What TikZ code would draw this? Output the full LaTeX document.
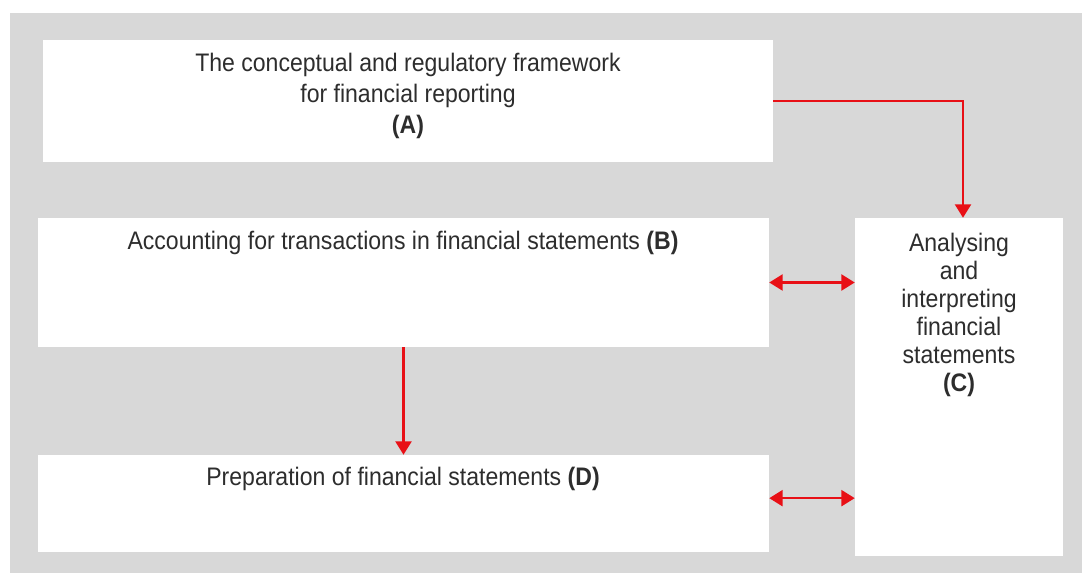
\documentclass[tikz,border=0pt]{standalone}
\usepackage{fontspec}
\setmainfont[FakeStretch=0.91]{Liberation Sans}
\usetikzlibrary{arrows.meta}

\definecolor{panelgray}{RGB}{216,216,216}
\definecolor{linkred}{RGB}{232,16,22}
\definecolor{inkgray}{RGB}{45,45,45}

\tikzset{
  topicbox/.style={fill=white,draw=none,inner sep=0pt},
  topictext/.style={text=inkgray,align=center,font=\fontsize{19}{23.5}\selectfont},
  link/.style={draw=linkred,line width=1.6pt,-{Triangle[width=12pt,length=10pt]}},
  twolink/.style={draw=linkred,line width=1.6pt,{Triangle[width=12pt,length=10pt]}-{Triangle[width=12pt,length=10pt]}}
}

\begin{document}
\begin{tikzpicture}[x=0.75pt,y=0.75pt,yscale=-1,xscale=1]
		\useasboundingbox (0,0) rectangle (1082,573);
		
		\fill [panelgray] (10,13) rectangle (1082,573);
		
		% boxes
		\node [topicbox,minimum width=730*0.75pt,minimum height=122*0.75pt] (A) at (408,101) {};
		\node [topicbox,minimum width=731*0.75pt,minimum height=129*0.75pt] (B) at (403.5,282.5) {};
		\node [topicbox,minimum width=208*0.75pt,minimum height=338*0.75pt] (C) at (959,387) {};
		\node [topicbox,minimum width=731*0.75pt,minimum height=97*0.75pt] (D) at (403.5,503.5) {};
		
		% texts
		\node [topictext] (tA) at (408,96) {The conceptual and regulatory framework\\for financial reporting\\\textbf{(A)}};
		\node [topictext] (tB) at (403,243) {Accounting for transactions in financial statements \textbf{(B)}};
		\node [topictext,font=\fontsize{19}{21}\selectfont] (tC) at (959,315) {Analysing\\and\\interpreting\\financial\\statements\\\textbf{(C)}};
		\node [topictext] (tD) at (403,479) {Preparation of financial statements \textbf{(D)}};
		
		% connectors
		\coordinate (dC) at ([yshift=-4pt]D.east);
		\draw [link] (A.east) -| ([xshift=3pt]C.north);
		\draw [twolink] (B.east) -- (C.west |- B.east);
		\draw [twolink] (dC) -- (C.west |- dC);
		\draw [link] (B.south) -- (D.north);
		
\end{tikzpicture}
\end{document}
